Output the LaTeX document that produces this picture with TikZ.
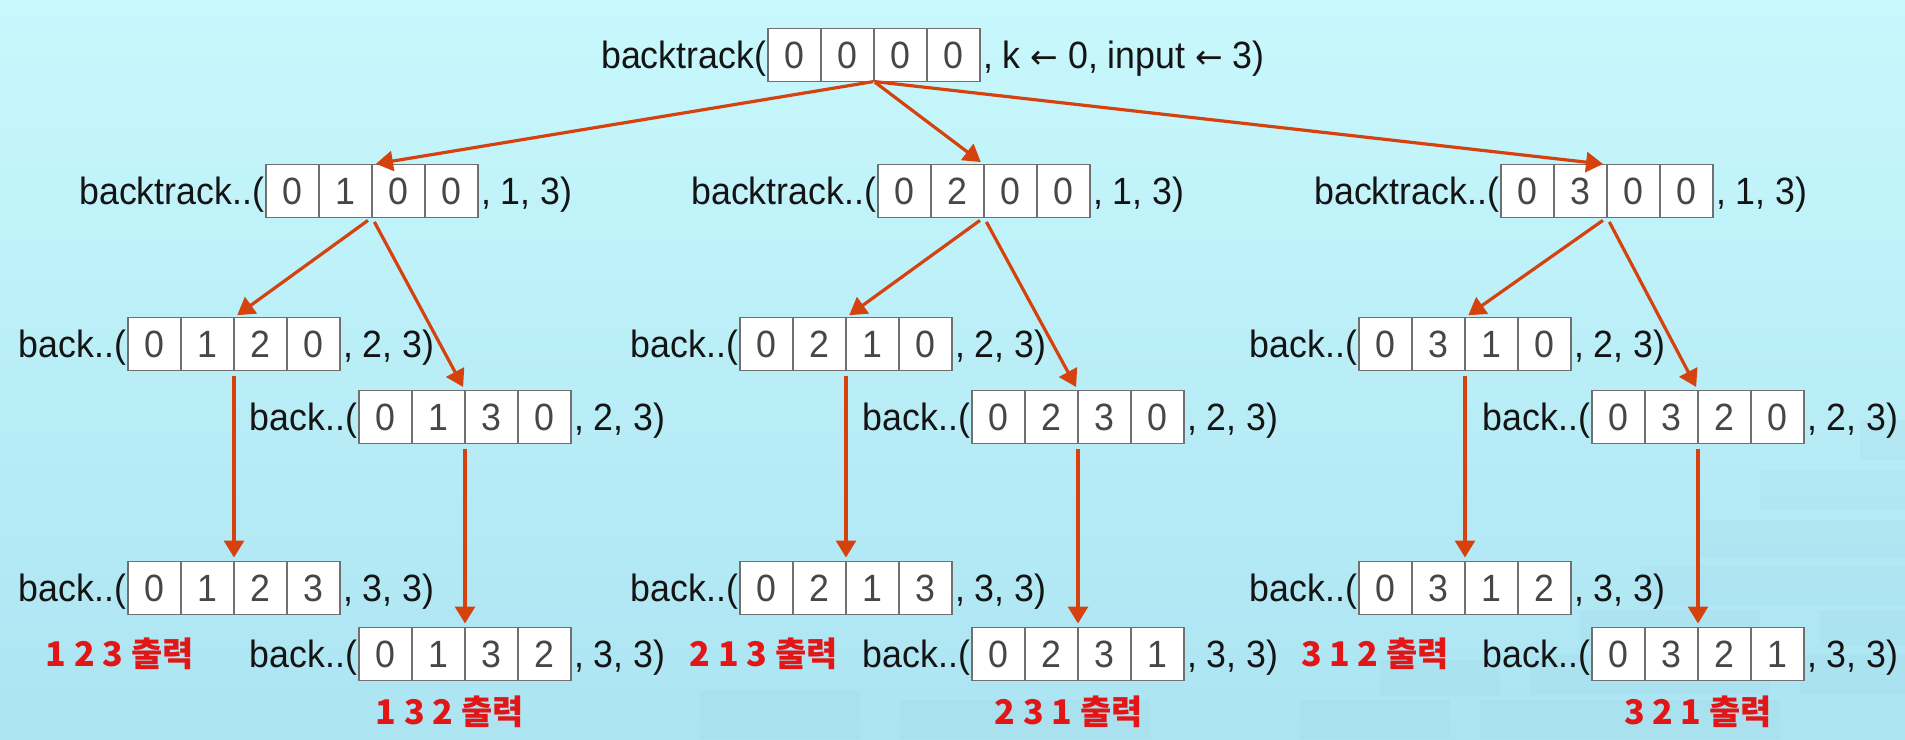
\documentclass[tikz,border=0pt]{standalone}
\usepackage{fontspec}
\setmainfont{Liberation Sans}[FakeStretch=0.94]
\newfontfamily\krfont{Noto Sans CJK KR}
\newfontfamily\arrfont{DejaVu Sans}
\newcommand\larr{{\arrfont\fontsize{33}{38}\selectfont ←}}
\usetikzlibrary{arrows.meta}
\definecolor{bgtop}{RGB}{200,248,252}
\definecolor{bgbot}{RGB}{172,228,242}
\definecolor{blockc}{RGB}{150,205,222}
\definecolor{arrc}{RGB}{214,66,14}
\definecolor{outred}{RGB}{226,22,22}
\definecolor{cellborder}{RGB}{112,112,112}
\tikzset{
  cell/.style={draw=cellborder, line width=1.6pt, fill=white, minimum width=53pt,
    minimum height=53pt, inner sep=0pt, outer sep=0pt, text=black!72,
    font=\fontsize{38}{40}\selectfont},
  lbl/.style={inner sep=0pt, outer sep=0pt, text=black!92, font=\fontsize{38}{40}\selectfont},
  outlbl/.style={inner sep=0pt, text=outred, font=\krfont\bfseries\fontsize{34}{38}\selectfont},
  conn/.style={draw=arrc, line width=3.2pt, -{Triangle[length=17pt,width=20pt]},
    shorten <=5pt, shorten >=4pt},
  topconn/.style={conn, shorten <=1pt},
  block/.style={fill=blockc, opacity=0.13, draw=none}
}
\newcommand\callbox[9]{%
  \node[cell, anchor=west] (#1-1) at (#2,#3) {#4};
  \node[cell, anchor=west] (#1-2) at (#1-1.east) {#5};
  \node[cell, anchor=west] (#1-3) at (#1-2.east) {#6};
  \node[cell, anchor=west] (#1-4) at (#1-3.east) {#7};
  \node[lbl, anchor=base east] (#1-pre) at ([xshift=-2pt]#1-1.base west) {#8};
  \node[lbl, anchor=base west] (#1-post) at ([xshift=3pt]#1-4.base east) {#9};
}
\begin{document}
\begin{tikzpicture}[x=1pt, y=-1pt]
\useasboundingbox (0,0) rectangle (1905,739);
\shade[top color=bgtop, bottom color=bgbot] (0,0) rectangle (1905,739);
% faint blocks texture (bottom right)
\foreach \bx/\by/\bw/\bh in {1760/470/145/40, 1700/520/205/38, 1640/565/265/40, 1580/610/180/36,
  1820/610/85/36, 1530/655/240/40, 1800/655/105/40, 1480/700/300/39, 1300/700/150/39,
  1380/660/120/36, 1860/420/45/40, 900/700/250/39, 700/690/160/49}
  \fill[block] (\bx,\by) rectangle ++(\bw,\bh);

% level 0
\callbox{T}{768}{55}{0}{0}{0}{0}{backtrack(}{, k \larr{} 0, input \larr{} 3)}
% level 1
\callbox{A}{266}{191}{0}{1}{0}{0}{backtrack..(}{, 1, 3)}
\callbox{B}{878}{191}{0}{2}{0}{0}{backtrack..(}{, 1, 3)}
\callbox{C}{1501}{191}{0}{3}{0}{0}{backtrack..(}{, 1, 3)}
% level 2
\callbox{AA}{128}{344}{0}{1}{2}{0}{back..(}{, 2, 3)}
\callbox{AB}{359}{417}{0}{1}{3}{0}{back..(}{, 2, 3)}
\callbox{BA}{740}{344}{0}{2}{1}{0}{back..(}{, 2, 3)}
\callbox{BB}{972}{417}{0}{2}{3}{0}{back..(}{, 2, 3)}
\callbox{CA}{1359}{344}{0}{3}{1}{0}{back..(}{, 2, 3)}
\callbox{CB}{1592}{417}{0}{3}{2}{0}{back..(}{, 2, 3)}
% level 3
\callbox{AAA}{128}{588}{0}{1}{2}{3}{back..(}{, 3, 3)}
\callbox{ABA}{359}{654}{0}{1}{3}{2}{back..(}{, 3, 3)}
\callbox{BAA}{740}{588}{0}{2}{1}{3}{back..(}{, 3, 3)}
\callbox{BBA}{972}{654}{0}{2}{3}{1}{back..(}{, 3, 3)}
\callbox{CAA}{1359}{588}{0}{3}{1}{2}{back..(}{, 3, 3)}
\callbox{CBA}{1592}{654}{0}{3}{2}{1}{back..(}{, 3, 3)}

% outputs
\node[outlbl] (oAAA) at (120,654) {1 2 3 출력};
\node[outlbl] (oABA) at (450,712) {1 3 2 출력};
\node[outlbl] (oBAA) at (764,654) {2 1 3 출력};
\node[outlbl] (oBBA) at (1069,712) {2 3 1 출력};
\node[outlbl] (oCAA) at (1375,654) {3 1 2 출력};
\node[outlbl] (oCBA) at (1698,712) {3 2 1 출력};

% connectors
\draw[topconn] (T-2.south east) -- (A-2.north east);
\draw[topconn] (T-2.south east) -- (B-2.north east);
\draw[topconn] (T-2.south east) -- (C-2.north east);
\foreach \p in {A,B,C}{
  \draw[conn] (\p-2.south east) -- (\p A-2.north east);
  \draw[conn] (\p-2.south east) -- (\p B-2.north east);
  \draw[conn] (\p A-2.south east) -- (\p AA-2.north east);
  \draw[conn] (\p B-2.south east) -- (\p BA-2.north east);
}
\end{tikzpicture}
\end{document}
